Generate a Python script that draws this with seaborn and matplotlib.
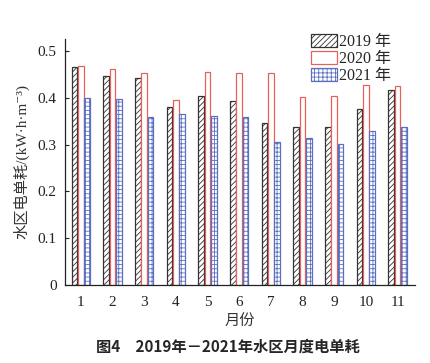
# 2019-2021 monthly unit electricity consumption of water zone
import matplotlib
matplotlib.use("Agg")
import matplotlib.pyplot as plt
import seaborn as sns
import pandas as pd
from matplotlib.patches import Patch

months = [1, 2, 3, 4, 5, 6, 7, 8, 9, 10, 11]
years = ["2019 年", "2020 年", "2021 年"]
v2019 = [0.465, 0.447, 0.443, 0.380, 0.403, 0.393, 0.347, 0.338, 0.338, 0.375, 0.416]
v2020 = [0.468, 0.461, 0.453, 0.395, 0.456, 0.453, 0.453, 0.401, 0.403, 0.427, 0.426]
v2021 = [0.400, 0.398, 0.360, 0.365, 0.362, 0.360, 0.305, 0.315, 0.302, 0.328, 0.337]

edge_colors = ["#333333", "#e8605a", "#5a6fc0"]
hatches = ["//////", "", "++++"]

sns.set_style("ticks")
plt.rcParams["font.family"] = ["Liberation Serif", "Noto Sans CJK SC", "DejaVu Serif"]
plt.rcParams["hatch.linewidth"] = 0.6

df = pd.DataFrame({
    "month": months * 3,
    "year": [years[0]] * 11 + [years[1]] * 11 + [years[2]] * 11,
    "value": v2019 + v2020 + v2021,
})

fig = plt.figure(figsize=(4.3, 3.63), dpi=100)
ax = fig.add_axes([0.151, 0.215, 0.814, 0.678])

sns.barplot(data=df, x="month", y="value", hue="year", ax=ax,
            width=0.6, legend=False, errorbar=None, saturation=1)

# restyle bars: white face, coloured edges and hatches
for i, container in enumerate(ax.containers):
    for bar in container:
        bar.set_facecolor("white")
        bar.set_edgecolor(edge_colors[i])
        bar.set_hatch(hatches[i])
        bar.set_linewidth(0.9)
        w = bar.get_width()
        bar.set_x(bar.get_x() + w * 0.04)
        bar.set_width(w * 0.92)

ax.set_xlim(-0.5, 10.55)
ax.set_ylim(0, 0.526)
ax.set_yticks([0, 0.1, 0.2, 0.3, 0.4, 0.5])
ax.set_yticklabels(["0", "0.1", "0.2", "0.3", "0.4", "0.5"])
ax.tick_params(axis="y", direction="in", length=3, labelsize=11, pad=6, colors="#222222")
ax.tick_params(axis="x", length=0, labelsize=11, pad=8, colors="#222222")
sns.despine(ax=ax)
for s in ["left", "bottom"]:
    ax.spines[s].set_linewidth(0.9)
    ax.spines[s].set_color("#222222")

ax.set_xlabel("月份", fontsize=11, labelpad=4, color="#333333")
ax.set_ylabel("水区电单耗/(kW·h·m⁻³)", fontsize=11, labelpad=6, color="#333333")

handles = [Patch(facecolor="white", edgecolor=edge_colors[i], hatch=hatches[i], linewidth=0.9)
           for i in range(3)]
ax.legend(handles, years, loc="upper right", bbox_to_anchor=(0.95, 1.045), frameon=False,
          fontsize=11.5, handlelength=1.6, handleheight=0.85, handletextpad=0.15,
          labelspacing=0.05, borderaxespad=0)

fig.text(0.53, 0.045, "图4　2019年－2021年水区月度电单耗", ha="center", va="center",
         fontsize=11, fontweight="bold", family=["Noto Sans CJK SC", "DejaVu Sans"])

fig.savefig("out.png", dpi=100, facecolor="white")
